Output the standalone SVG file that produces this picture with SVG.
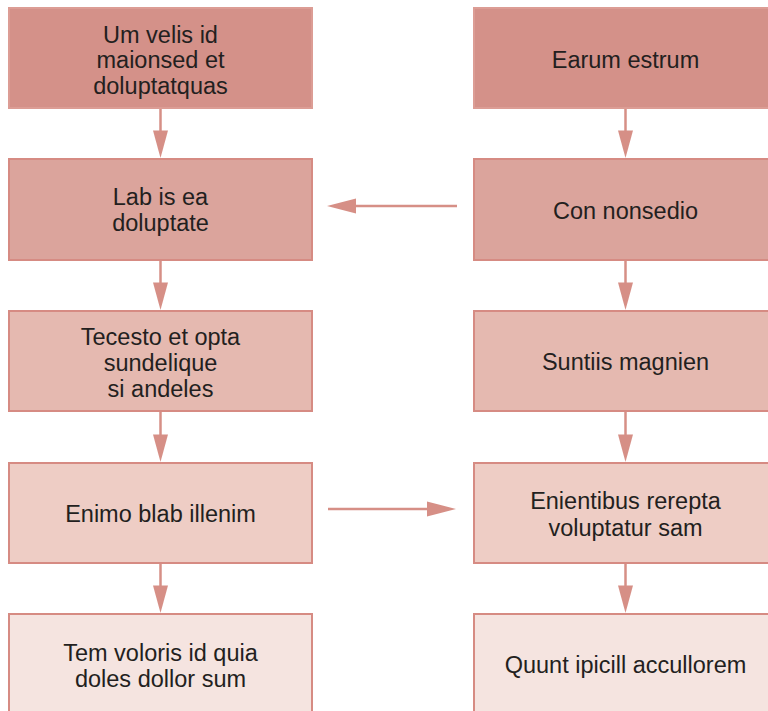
<svg xmlns="http://www.w3.org/2000/svg" width="768" height="711" viewBox="0 0 768 711">
<style>
.box{stroke:#d68b83;stroke-width:2}
.r1{fill:#d49189;stroke:#dc9d95}
.r2{fill:#dba49c}
.r3{fill:#e5b9b0}
.r4{fill:#eecdc5}
.r5{fill:#f5e4e0}
text{font-family:"Liberation Sans",Arial,sans-serif;font-size:23.5px;fill:#231f20;text-anchor:middle}
.ln{stroke:#d68f86;stroke-width:2.5;fill:none}
.hd{fill:#d68f86}
</style>
<rect width="768" height="711" fill="#ffffff"/>
<g id="connectors">
<line class="ln" x1="160.5" y1="109" x2="160.5" y2="132"/><polygon class="hd" points="153,130.5 168,130.5 160.5,158"/>
<line class="ln" x1="160.5" y1="261" x2="160.5" y2="284"/><polygon class="hd" points="153,282.5 168,282.5 160.5,310"/>
<line class="ln" x1="160.5" y1="412" x2="160.5" y2="436"/><polygon class="hd" points="153,434.5 168,434.5 160.5,462"/>
<line class="ln" x1="160.5" y1="564" x2="160.5" y2="587"/><polygon class="hd" points="153,585.5 168,585.5 160.5,613"/>
<line class="ln" x1="625.5" y1="109" x2="625.5" y2="132"/><polygon class="hd" points="618,130.5 633,130.5 625.5,158"/>
<line class="ln" x1="625.5" y1="261" x2="625.5" y2="284"/><polygon class="hd" points="618,282.5 633,282.5 625.5,310"/>
<line class="ln" x1="625.5" y1="412" x2="625.5" y2="436"/><polygon class="hd" points="618,434.5 633,434.5 625.5,462"/>
<line class="ln" x1="625.5" y1="564" x2="625.5" y2="587"/><polygon class="hd" points="618,585.5 633,585.5 625.5,613"/>
<line class="ln" x1="457" y1="206" x2="354" y2="206"/><polygon class="hd" points="356,198.5 356,213.5 327,206"/>
<line class="ln" x1="328" y1="509" x2="429" y2="509"/><polygon class="hd" points="427,501.5 427,516.5 456,509"/>
</g>
<g id="n1"><rect class="box r1" x="9" y="8" width="303" height="100"/>
<text x="160.5" y="42.5">Um velis id</text><text x="160.5" y="68">maionsed et</text><text x="160.5" y="93.5">doluptatquas</text></g>
<g id="n2"><rect class="box r2" x="9" y="159" width="303" height="101"/>
<text x="160.5" y="205">Lab is ea</text><text x="160.5" y="231">doluptate</text></g>
<g id="n3"><rect class="box r3" x="9" y="311" width="303" height="100"/>
<text x="160.5" y="345">Tecesto et opta</text><text x="160.5" y="371">sundelique</text><text x="160.5" y="397">si andeles</text></g>
<g id="n4"><rect class="box r4" x="9" y="463" width="303" height="100"/>
<text x="160.5" y="521.5">Enimo blab illenim</text></g>
<g id="n5"><rect class="box r5" x="9" y="614" width="303" height="110"/>
<text x="160.5" y="660.5">Tem voloris id quia</text><text x="160.5" y="686.5">doles dollor sum</text></g>
<g id="m1"><rect class="box r1" x="474" y="8" width="303" height="100"/>
<text x="625.5" y="67.5">Earum estrum</text></g>
<g id="m2"><rect class="box r2" x="474" y="159" width="303" height="101"/>
<text x="625.5" y="219">Con nonsedio</text></g>
<g id="m3"><rect class="box r3" x="474" y="311" width="303" height="100"/>
<text x="625.5" y="370">Suntiis magnien</text></g>
<g id="m4"><rect class="box r4" x="474" y="463" width="303" height="100"/>
<text x="625.5" y="508.5">Enientibus rerepta</text><text x="625.5" y="535.5">voluptatur sam</text></g>
<g id="m5"><rect class="box r5" x="474" y="614" width="303" height="110"/>
<text x="625.5" y="673">Quunt ipicill accullorem</text></g>
</svg>
